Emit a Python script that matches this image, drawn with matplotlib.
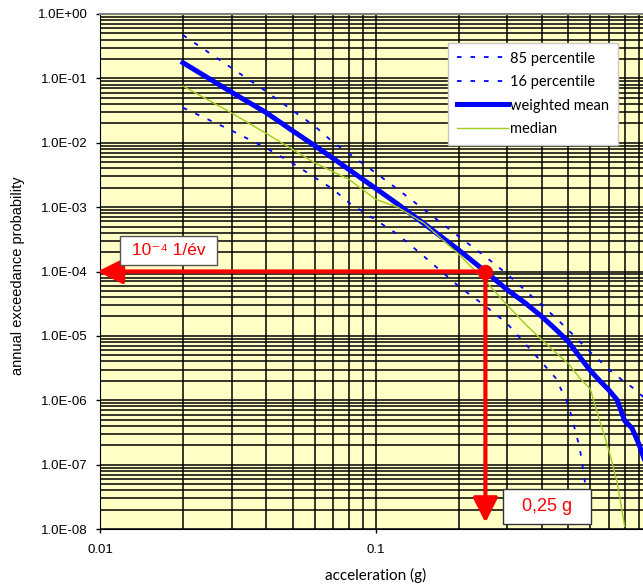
import matplotlib
matplotlib.use('Agg')
import matplotlib.pyplot as plt
import numpy as np
from matplotlib.ticker import FixedLocator, LogLocator, NullFormatter

# hazard curves (acceleration in g, annual exceedance probability)
accel = [0.02, 0.03, 0.04, 0.05, 0.06, 0.07, 0.08, 0.1, 0.12, 0.15, 0.2, 0.25, 0.3, 0.35,
         0.4, 0.45, 0.5, 0.55, 0.6, 0.65, 0.7, 0.75, 0.8, 0.85, 0.9, 0.95, 1.0]
p85 = [0.47, 0.145, 0.063, 0.0316, 0.0182, 0.0102, 0.0068, 0.0034, 0.0019, 9.1e-4, 3.5e-4,
       1.7e-4, 9.1e-5, 5.0e-5, 3.0e-5, 1.9e-5, 1.23e-5, 8.1e-6, 5.6e-6, 4.1e-6, 3.0e-6,
       2.4e-6, 1.9e-6, 1.6e-6, 1.3e-6, 1.05e-6, 8e-7]
p_mean = [0.175, 0.061, 0.0295, 0.0153, 0.00906, 0.00573, 0.00383, 0.00195, 0.00112, 5.5e-4,
          2.16e-4, 1.0e-4, 5.2e-5, 3.2e-5, 2.0e-5, 1.26e-5, 8.1e-6, 4.7e-6, 2.9e-6, 2.0e-6,
          1.45e-6, 1.02e-6, 4.8e-7, 3.7e-7, 2.1e-7, 1.1e-7, 5e-8]

accel16 = [0.02, 0.03, 0.04, 0.05, 0.06, 0.07, 0.08, 0.1, 0.12, 0.15, 0.2, 0.25, 0.3, 0.35,
           0.4, 0.45, 0.5, 0.55, 0.575, 0.6]
p16 = [0.035, 0.0155, 0.0083, 0.0048, 0.0029, 0.0019, 0.00117, 6.3e-4, 3.8e-4, 1.7e-4, 5.9e-5,
       2.9e-5, 1.55e-5, 7.4e-6, 3.9e-6, 2.2e-6, 8.5e-7, 1.8e-7, 5.1e-8, 1e-8]

accel_med = [0.02, 0.03, 0.04, 0.05, 0.06, 0.07, 0.08, 0.1, 0.12, 0.15, 0.2, 0.25, 0.3, 0.35,
             0.4, 0.45, 0.5, 0.55, 0.6, 0.65, 0.7, 0.75, 0.8]
p_med = [0.076, 0.029, 0.014, 0.00785, 0.0049, 0.00355, 0.0027, 0.00132, 0.001, 5.6e-4,
         1.86e-4, 7.1e-5, 3.0e-5, 1.5e-5, 8.7e-6, 5.5e-6, 3.7e-6, 2.2e-6, 1.5e-6, 4.7e-7,
         1.7e-7, 5.5e-8, 1.1e-8]

y_ticks = [1e0, 1e-1, 1e-2, 1e-3, 1e-4, 1e-5, 1e-6, 1e-7, 1e-8]
y_labels = ['1.0E+00', '1.0E-01', '1.0E-02', '1.0E-03', '1.0E-04', '1.0E-05', '1.0E-06',
            '1.0E-07', '1.0E-08']
x_ticks = [0.01, 0.1, 1]
x_labels = ['0.01', '0.1', '']

design_accel = 0.25
design_prob = 1e-4

arial = ['Liberation Sans', 'DejaVu Sans']
calibri = ['Lato', 'DejaVu Sans']

fig = plt.figure(figsize=(6.43, 5.88), dpi=100)
ax = fig.add_axes([100 / 643, 59 / 588, 551.4 / 643, 515 / 588])
ax.set_facecolor('#FFFFC6')
ax.set_xscale('log')
ax.set_yscale('log')
ax.set_xlim(0.01, 1)
ax.set_ylim(1e-8, 1)

ax.xaxis.set_major_locator(FixedLocator(x_ticks))
ax.xaxis.set_minor_locator(LogLocator(base=10, subs=np.arange(2, 10), numticks=100))
ax.yaxis.set_major_locator(FixedLocator(y_ticks))
ax.yaxis.set_minor_locator(LogLocator(base=10, subs=np.arange(2, 10), numticks=100))
ax.xaxis.set_minor_formatter(NullFormatter())
ax.yaxis.set_minor_formatter(NullFormatter())
ax.set_xticklabels(x_labels, fontfamily=arial, fontsize=9.5)
ax.set_yticklabels(y_labels, fontfamily=arial, fontsize=9.5)
ax.tick_params(which='major', direction='out', length=3, width=1, pad=6)
ax.tick_params(axis='x', which='major', pad=8)
ax.tick_params(which='minor', length=0)
ax.grid(True, which='both', color='black', linewidth=1.1)
ax.set_axisbelow(True)
ax.spines['top'].set_color('#808080')
ax.spines['top'].set_linewidth(1.5)

ax.plot(accel, p85, color='#0000FF', lw=1.3, ls=(0, (2.5, 5)), label='85 percentile')
ax.plot(accel16, p16, color='#0000FF', lw=1.3, ls=(0, (2.5, 5)), label='16 percentile')
ax.plot(accel, p_mean, color='#0000FF', lw=3.6, label='weighted mean')
ax.plot(accel_med, p_med, color='#9FCB1E', lw=1.0, label='median')

# design point and the red arrows
arrow = dict(arrowstyle='-|>,head_length=0.6,head_width=0.3', color='red', lw=3,
             mutation_scale=25, shrinkA=0, shrinkB=0)
ax.annotate('', xy=(0.0098, design_prob), xytext=(design_accel, design_prob),
            arrowprops=arrow, annotation_clip=False)
ax.annotate('', xy=(design_accel, 1.25e-8), xytext=(design_accel, design_prob),
            arrowprops=arrow, annotation_clip=False)
ax.plot(design_accel, design_prob, 'o', color='red', markersize=10, zorder=5)

ax.text(0.0177, 2.09e-4, ' 10\u207b\u2074 1/év ', ha='center', va='center', color='red',
        fontsize=12.5, fontfamily=arial,
        bbox=dict(boxstyle='square,pad=0.4', fc='white', ec='#555555', lw=1))
ax.text(0.418, 2.25e-8, '  0,25 g  ', ha='center', va='center', color='red',
        fontsize=13, fontfamily=arial,
        bbox=dict(boxstyle='square,pad=0.5', fc='white', ec='#333333', lw=1))

leg = ax.legend(loc='upper right', bbox_to_anchor=(0.939, 0.944), borderaxespad=0,
                fancybox=False, framealpha=1, edgecolor='#C8C8C8',
                prop={'family': calibri, 'size': 10.5}, handlelength=3.5,
                handletextpad=0.15, labelspacing=0.65, borderpad=0.6)
leg.get_frame().set_linewidth(1)
leg.set_zorder(10)

ax.set_ylabel('annual exceedance probability', fontfamily=arial, fontsize=10.5)
ax.yaxis.set_label_coords(-0.136, 0.491)
ax.set_xlabel('acceleration (g)', fontfamily=calibri, fontsize=11)
ax.xaxis.set_label_coords(275.7 / 551.4, -0.0757)

fig.savefig('out.png', dpi=100)
